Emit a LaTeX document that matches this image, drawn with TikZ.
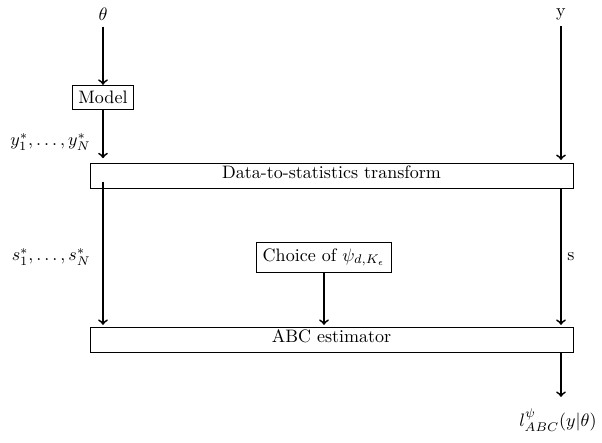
\documentclass[tikz,border=0pt]{standalone}
\usetikzlibrary{calc}
\begin{document}
\begin{tikzpicture}[x=0.555pt,y=-0.555pt,
  box/.style={draw,rectangle},
  wide/.style={draw,rectangle,minimum width=268pt,text height=5.2pt,text depth=2pt},
  arr/.style={->,line width=1pt}]
\useasboundingbox (0,0) rectangle (602,443);

% inputs
\node (theta) at (103,14) {$\theta$};
\node (yobs) at (561,14) {y};

% simulation branch
\node[box] (model) at (103,97.5) {Model};
\node[anchor=east] (ystar) at (97,142) {$y_1^*,\ldots,y_N^*$};

% shared processing boxes
\node[wide] (trans) at (331.5,175.5) {Data-to-statistics transform};
\node[box] (choice) at (324,257.5) {Choice of $\psi_{d,K_\epsilon}$};
\node[wide] (abc) at (331.5,339.5) {ABC estimator};

% labels on the connectors
\node[anchor=east] (sstar) at (97,257) {$s_1^*,\ldots,s_N^*$};
\node (slab) at (571,257) {s};

% output
\node (lik) at (558,420) {$l^{\psi}_{ABC}(y|\theta)$};

% connectors
\draw[arr] (theta) -- (model);
\draw[arr,shorten >=2.5pt] (model) -- (trans.north -| model);
\draw[arr,shorten >=1pt] ($(trans.south -| model)+(0,-6)$) -- (abc.north -| model);
\draw[arr,shorten >=1.5pt] (yobs) -- (trans.north -| yobs);
\draw[arr,shorten >=1pt] (trans.south -| yobs) -- (abc.north -| yobs);
\draw[arr,shorten >=1pt] (choice) -- (abc.north -| choice);
\draw[arr,shorten >=3pt] (abc.south -| yobs) -- (lik.north -| yobs);
\end{tikzpicture}
\end{document}
